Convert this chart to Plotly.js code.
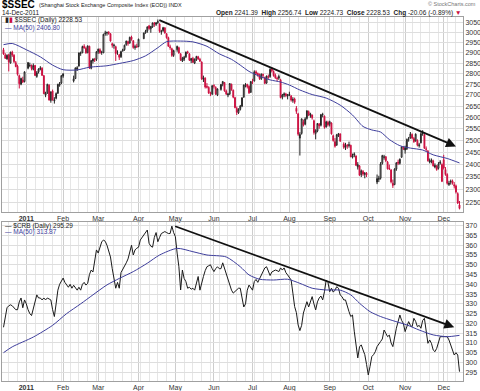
<!DOCTYPE html>
<html><head><meta charset="utf-8">
<script src="https://cdn.plot.ly/plotly-3.0.1.min.js"></script>
<style>html,body{margin:0;padding:0;background:#fff;}#chart{width:480px;height:391px;}</style>
</head><body><div id="chart"></div>
<script>
// ---------- calendar ----------
const firstDay = '2010-12-15';
const lastDay = '2011-12-14';
const sseHolidays = ['2011-01-03','2011-02-02','2011-02-03','2011-02-04','2011-02-07','2011-02-08',
  '2011-04-04','2011-04-05','2011-05-02','2011-06-06','2011-09-12',
  '2011-10-03','2011-10-04','2011-10-05','2011-10-06','2011-10-07'];

// ---------- $SSEC daily OHLC (one row per month) ----------
const ssecOpen = [
 2915,2890,2870,2890,2850,2903,2888,2852,2835,2790,2750,2770,2762,
 2825,2838,2840,2820,2838,2786,2808,2820,2825,2790,2700,2710,2745,2675,2718,2673,2685,2708,2745,2755,
 2788,2765,2776,2820,2835,2897,2900,2932,2922,2900,2932,2825,2860,2868,2868,
 2905,2915,2902,2900,2995,2998,3002,2995,2945,2935,2930,2898,2890,2880,2910,2915,2940,2955,2948,2978,2960,2926,2932,
 2930,2970,3000,3008,3035,3020,3030,3050,3043,3052,3045,3005,3010,3025,2995,2975,2930,2920,2887,
 2915,2925,2895,2860,2868,2880,2905,2895,2862,2872,2850,2868,2880,2868,2855,2772,2778,2740,2735,2708,2705,
 2743,2735,2700,2725,2750,2758,2718,2700,2705,2750,2722,2688,2640,2620,2635,2650,2690,2745,2748,2740,2712,
 2760,2765,2808,2800,2790,2775,2795,2780,2755,2785,2785,2822,2810,2792,2778,2778,2770,2690,2700,2705,2695,
 2700,2695,2675,2682,2640,2615,2510,2530,2580,2570,2595,2625,2608,2610,2585,2530,2540,2570,2565,2612,2605,2558,2578,
 2570,2575,2520,2495,2480,2522,2528,2485,2470,2480,2478,2480,2430,2438,2435,2390,2395,2360,2372,2360,2365,
 2330,2340,2345,2405,2430,2432,2410,2385,2378,2325,2320,2382,2410,2405,2430,2470,
 2460,2465,2505,2510,2525,2508,2498,2500,2478,2490,2528,2525,2465,2455,2410,2412,2415,2390,2395,2385,2405,2400,
 2420,2380,2360,2320,2330,2335,2320,2315,2285,2241.39];
const ssecHigh = [
 2924,2898,2892,2895,2905,2910,2893,2860,2842,2795,2780,2785,2810,
 2853,2852,2842,2848,2840,2812,2825,2835,2830,2792,2715,2752,2750,2715,2725,2690,2712,2752,2760,2792,
 2800,2790,2828,2835,2900,2906,2935,2942,2930,2936,2935,2865,2872,2875,2908,
 2920,2922,2910,2995,3010,3005,3008,2998,2950,2945,2935,2912,2895,2910,2920,2940,2960,2960,2980,2985,2962,2940,2945,
 2970,3000,3015,3032,3040,3035,3052,3055,3055,3068,3048,3015,3030,3028,2998,2980,2940,2925,2915,
 2935,2930,2898,2880,2885,2905,2910,2898,2875,2880,2872,2885,2885,2875,2858,2790,2782,2755,2740,2715,2745,
 2750,2740,2730,2750,2765,2760,2725,2710,2755,2752,2725,2692,2648,2640,2655,2690,2748,2755,2752,2745,2765,
 2775,2815,2815,2805,2800,2800,2800,2785,2790,2795,2825,2830,2815,2800,2785,2795,2775,2705,2712,2710,2705,
 2715,2700,2690,2688,2650,2620,2535,2595,2590,2600,2632,2630,2620,2612,2590,2548,2575,2575,2615,2620,2608,2585,2585,
 2585,2578,2525,2510,2528,2532,2530,2492,2490,2485,2495,2482,2445,2450,2438,2410,2398,2380,2378,2370,2370,
 2360,2355,2410,2440,2440,2435,2415,2400,2382,2340,2385,2410,2420,2425,2475,2475,
 2478,2508,2515,2536,2530,2515,2530,2505,2490,2535,2544,2528,2475,2460,2425,2425,2420,2405,2398,2410,2418,2405,
 2440,2390,2365,2335,2340,2340,2330,2320,2290,2256.74];
const ssecLow = [
 2890,2870,2866,2810,2848,2880,2850,2830,2790,2730,2745,2755,2758,
 2820,2830,2815,2815,2788,2780,2800,2815,2790,2705,2690,2705,2675,2665,2675,2661,2680,2705,2738,2750,
 2780,2758,2774,2812,2834,2885,2898,2920,2895,2898,2822,2820,2848,2855,2860,
 2895,2895,2890,2898,2985,2985,2990,2955,2925,2920,2860,2890,2865,2875,2905,2910,2935,2935,2945,2960,2920,2915,2925,
 2928,2968,2995,3000,3015,3000,3025,3030,3035,3045,3000,2990,3005,2995,2970,2930,2915,2880,2880,
 2905,2895,2860,2855,2860,2875,2895,2860,2850,2850,2845,2860,2865,2855,2770,2760,2730,2730,2705,2695,2700,
 2730,2700,2695,2720,2740,2715,2700,2690,2700,2720,2685,2640,2610,2615,2630,2645,2688,2735,2730,2705,2710,
 2750,2762,2795,2785,2770,2770,2780,2750,2752,2775,2780,2805,2785,2775,2765,2770,2685,2680,2690,2690,2680,
 2695,2670,2665,2660,2615,2520,2437,2525,2560,2565,2590,2605,2598,2590,2525,2505,2535,2550,2560,2600,2550,2555,2560,
 2560,2525,2495,2470,2478,2515,2495,2465,2460,2465,2470,2430,2425,2430,2395,2380,2355,2350,2355,2345,2350,
 2322,2330,2340,2400,2420,2410,2380,2378,2325,2307,2318,2375,2398,2400,2428,2460,
 2445,2460,2495,2508,2505,2490,2495,2475,2470,2488,2520,2465,2455,2412,2405,2405,2392,2385,2375,2380,2400,2330,
 2380,2355,2320,2315,2320,2320,2305,2285,2245,2224.73];
const ssecClose = [
 2894,2873,2888,2856,2903,2889,2857,2833,2796,2752,2777,2760,2808,
 2853,2839,2824,2838,2791,2804,2821,2827,2791,2706,2709,2749,2677,2715,2677,2677,2707,2749,2752,2790,
 2799,2775,2827,2828,2900,2899,2931,2924,2900,2934,2826,2862,2870,2865,2905,
 2918,2900,2902,2992,2998,3002,2997,2958,2937,2937,2896,2898,2878,2906,2914,2937,2958,2946,2977,2966,2926,2930,2928,
 2967,2999,3007,3030,3022,3032,3050,3043,3050,3057,3007,3007,3026,2999,2975,2932,2926,2887,2911,
 2932,2899,2866,2872,2878,2904,2900,2864,2872,2854,2869,2882,2870,2859,2775,2780,2737,2736,2709,2706,2743,
 2741,2705,2728,2749,2762,2719,2705,2704,2753,2724,2690,2643,2622,2635,2650,2687,2746,2748,2738,2710,2762,
 2759,2808,2801,2793,2776,2797,2792,2754,2788,2783,2820,2813,2790,2780,2776,2786,2688,2700,2705,2698,2701,
 2703,2677,2680,2667,2626,2527,2526,2593,2567,2593,2628,2611,2615,2598,2534,2542,2573,2563,2612,2612,2556,2580,2567,
 2581,2528,2500,2476,2524,2529,2497,2472,2479,2477,2482,2432,2436,2444,2397,2400,2357,2375,2362,2365,2359,
 2344,2345,2403,2437,2431,2416,2383,2383,2331,2317,2382,2407,2406,2422,2473,2468,
 2470,2505,2507,2528,2510,2495,2527,2480,2481,2529,2530,2467,2463,2416,2415,2419,2395,2397,2380,2402,2410,2333,
 2386,2360,2325,2326,2333,2325,2315,2291,2249,2228.53];

// $SSEC MA(50): weekday index from firstDay, value
const ssecMaDay = [0,5,13,21,28,34,42,49,59,66,74,81,88,93,101,108,116,123,130,135,140,146,152,158,163,169,176,184,192,199,205,210,215,220,226,232,239,245,253,260];
const ssecMaVal = [2940,2946,2915,2880,2840,2818,2817,2830,2837,2848,2862,2885,2925,2955,2958,2954,2932,2895,2868,2840,2810,2787,2770,2760,2746,2723,2702,2686,2654,2610,2560,2545,2536,2504,2478,2468,2460,2440,2425,2406.8];

// ---------- $CRB daily close, one value per weekday ----------
const crbClose = [
 318,324,328,329,329.5,329,328,327,327,331,
 333,328,332,330,327,325,324,328,331,334.6,
 333,333,332,333,332,333,332.5,332,327,323.5,
 330,337,340,342,343.2,341,339.6,338.5,340,338,
 339.5,338,337,338.5,337,340,341,339.6,340.5,345,
 347.3,346.3,352,357.6,356,359,361.7,362.7,362,360,
 357,354,348,342,338,341,338,346,347.5,349,
 351,353,356,360,355,357.6,358.5,359,362.7,364,
 365,366.3,367.8,361,359.5,359,364,366.5,361.8,364,
 366,366.5,367,366.5,366,366,369.8,366.5,364.4,356,
 349,337.1,347.3,343,341.4,338,338.5,337.5,338,337,
 340,344,337,341,344,347,349,349.5,350,348,
 346.5,348,349,348,348,351,348,346,342,338.8,
 337,335.5,336.5,337,338,338,332,328.4,330,337,
 339.6,338,337,341.4,342.5,341,343,344.5,346.5,348.4,
 349,347,344.5,346.3,347,347.3,347,346.5,348.4,347.3,
 348.4,346,344.8,343.5,342.2,335.5,328.6,325.5,319.2,316.3,
 319,325.3,328.4,331.1,328.4,331.5,333.7,330,326.9,331,
 333,334,332,336.2,342.2,341,336.2,338,336,337,
 338.8,338,334.5,333.7,332,332,328.4,326,323.5,324.3,
 316,309,302.3,308,309,306.4,304,299,293.6,298,
 303,304,305.5,308.1,309.8,310.7,312,316.6,314.9,313.2,
 314,310,308.1,314,317.5,320.9,324.3,321.5,320,315.8,
 319,320.9,319,318.3,322.6,321,318.3,319,317.5,321.5,
 322.6,315.8,309.8,311.5,309.8,306.4,305.5,307.2,309.8,313.2,
 313.2,313.2,313.2,313.2,311.5,308.9,305.5,303.8,305,303.8,
 295.29];
const crbMaDay = [0,5,17,28,36,44,51,59,66,74,82,89,99,108,116,127,135,140,146,154,162,169,176,184,192,198,203,209,215,222,230,237,245,253,260];
const crbMaVal = [305,308,313,319,325,330,334.6,339.7,343,346.5,350.8,355,358.4,356.7,355,354,349,344.8,342.6,342.2,342.6,340.5,338,337.1,337,334.6,330.3,326,323.5,321.4,319.2,316.6,314.1,313.2,313.87];

// ---------- trend lines ----------
const ssecTrendDates = ['2011-04-18','2011-12-12'];
const ssecTrendVals = [3068, 2475];
const crbTrendDates = ['2011-04-29','2011-12-09'];
const crbTrendVals = [370, 318];

// ---------- axis labels ----------
const monthTickDates = ['2011-01-03','2011-02-01','2011-03-01','2011-04-01','2011-05-02','2011-06-01','2011-07-01','2011-08-01','2011-09-01','2011-10-03','2011-11-01','2011-12-01'];
const monthTickText = ['<b>2011</b>','Feb','Mar','Apr','May','Jun','Jul','Aug','Sep','Oct','Nov','Dec'];
const ssecTicks = [2250,2300,2350,2400,2450,2500,2550,2600,2650,2700,2750,2800,2850,2900,2950,3000,3050];

// ---------- build ----------
function weekdayList(a, b) {
  const out = [];
  const d = new Date(a + 'T00:00:00Z');
  const e = new Date(b + 'T00:00:00Z');
  while (d <= e) {
    const w = d.getUTCDay();
    if (w !== 0 && w !== 6) out.push(d.toISOString().slice(0, 10));
    d.setUTCDate(d.getUTCDate() + 1);
  }
  return out;
}
const allDays = weekdayList(firstDay, lastDay);
const sseDays = allDays.filter(d => sseHolidays.indexOf(d) < 0);

const RED = '#cc1040';
const MABLUE = '#3e3e9c';
const FONT = 'Liberation Sans, Arial, sans-serif';

const data = [
  {type:'candlestick', x:sseDays, open:ssecOpen, high:ssecHigh, low:ssecLow, close:ssecClose,
   xaxis:'x', yaxis:'y', whiskerwidth:0, hoverinfo:'skip',
   increasing:{line:{color:'#222222', width:1}, fillcolor:'#ffffff'},
   decreasing:{line:{color:RED, width:1}, fillcolor:RED}},
  {type:'scatter', mode:'lines', x:ssecMaDay.map(i => allDays[i]), y:ssecMaVal, xaxis:'x', yaxis:'y',
   line:{color:MABLUE, width:1, shape:'spline', smoothing:0.7}, hoverinfo:'skip'},
  {type:'scatter', mode:'lines', x:allDays, y:crbClose, xaxis:'x2', yaxis:'y2',
   line:{color:'#1a1a1a', width:1}, hoverinfo:'skip'},
  {type:'scatter', mode:'lines', x:crbMaDay.map(i => allDays[i]), y:crbMaVal, xaxis:'x2', yaxis:'y2',
   line:{color:MABLUE, width:1, shape:'spline', smoothing:0.7}, hoverinfo:'skip'}
];

const W = 480, H = 391, ML = 2, MR = 17, MT = 17, MB = 10;
const PW = W - ML - MR, PH = H - MT - MB;
const px = x => (x - ML) / PW;
const py = y => (H - MB - y) / PH;

const xCommon = {
  type:'date', range:['2010-12-14 03:30', '2011-12-16 00:00'],
  rangebreaks:[{bounds:['sat','mon']}],
  rangeslider:{visible:false},
  tickmode:'array', tickvals:monthTickDates, ticktext:monthTickText,
  ticks:'', showgrid:true, gridcolor:'#cdcdcd', gridwidth:1,
  minor:{dtick:7*86400000, tick0:'2010-12-13', showgrid:true, gridcolor:'#e6e6e6', gridwidth:1},
  showline:true, mirror:true, linecolor:'#a0a0a0', linewidth:1,
  zeroline:false, fixedrange:true,
  tickfont:{family:FONT, size:7, color:'#333'}
};

const layout = {
  width:W, height:H,
  margin:{l:ML, r:MR, t:MT, b:MB, pad:0},
  paper_bgcolor:'#ffffff', plot_bgcolor:'#ffffff',
  showlegend:false,
  font:{family:FONT, size:7, color:'#222'},
  xaxis:Object.assign({}, xCommon, {anchor:'y', domain:[0,1]}),
  xaxis2:Object.assign({}, xCommon, {anchor:'y2', domain:[0,1], matches:'x'}),
  yaxis:{domain:[1 - 195/PH, 1], type:'log', range:[Math.log10(2215), Math.log10(3081)],
    side:'right', tickmode:'array', tickvals:ssecTicks, ticktext:ssecTicks.map(String),
    ticks:'', showgrid:true, gridcolor:'#dedede', showline:true, mirror:true, linecolor:'#a0a0a0',
    zeroline:false, fixedrange:true, tickfont:{family:FONT, size:7, color:'#333'}},
  yaxis2:{domain:[0, 159/PH], range:[290.5, 371.9], side:'right', tick0:295, dtick:5,
    ticks:'', showgrid:true, gridcolor:'#dedede', showline:true, mirror:true, linecolor:'#a0a0a0',
    zeroline:false, fixedrange:true, tickfont:{family:FONT, size:7, color:'#333'}},
  annotations:[
    {xref:'paper', yref:'paper', x:px(0), y:py(5), xanchor:'left', yanchor:'middle', showarrow:false,
     text:'<b>$SSEC</b>', font:{family:FONT, size:10, color:'#000'}},
    {xref:'paper', yref:'paper', x:px(37), y:py(5.5), xanchor:'left', yanchor:'middle', showarrow:false,
     text:'(Shanghai Stock Exchange Composite Index (EOD)) INDX', font:{family:FONT, size:5.5, color:'#222'}},
    {xref:'paper', yref:'paper', x:px(478), y:py(4), xanchor:'right', yanchor:'middle', showarrow:false,
     text:'© StockCharts.com', font:{family:FONT, size:5.5, color:'#777'}},
    {xref:'paper', yref:'paper', x:px(0), y:py(12.8), xanchor:'left', yanchor:'middle', showarrow:false,
     text:'14-Dec-2011', font:{family:FONT, size:6.5, color:'#222'}},
    {xref:'paper', yref:'paper', x:px(463), y:py(12.8), xanchor:'right', yanchor:'middle', showarrow:false,
     text:'<b>Open</b> 2241.39  <b>High</b> 2256.74  <b>Low</b> 2224.73  <b>Close</b> 2228.53  <b>Chg</b> -20.06 (-0.89%) <span style="color:' + RED + '">▼</span>',
     font:{family:FONT, size:6.5, color:'#222'}},
    {xref:'paper', yref:'paper', x:px(3), y:py(20.5), xanchor:'left', yanchor:'middle', showarrow:false,
     text:'<span style="color:#222">▮</span><span style="color:' + RED + '">▮</span> $SSEC (Daily) 2228.53', font:{family:FONT, size:6.5, color:'#222'}},
    {xref:'paper', yref:'paper', x:px(3), y:py(27.5), xanchor:'left', yanchor:'middle', showarrow:false,
     text:'— MA(50) 2406.80', font:{family:FONT, size:6.5, color:MABLUE}},
    {xref:'paper', yref:'paper', x:px(3), y:py(225.5), xanchor:'left', yanchor:'middle', showarrow:false,
     text:'— $CRB (Daily) 295.29', font:{family:FONT, size:6.5, color:'#222'}},
    {xref:'paper', yref:'paper', x:px(3), y:py(232), xanchor:'left', yanchor:'middle', showarrow:false,
     text:'— MA(50) 313.87', font:{family:FONT, size:6.5, color:MABLUE}},
    {xref:'x', yref:'y', axref:'x', ayref:'y',
     x:ssecTrendDates[1], y:Math.log10(ssecTrendVals[1]), ax:ssecTrendDates[0], ay:Math.log10(ssecTrendVals[0]),
     text:'', showarrow:true, arrowhead:2, arrowsize:1.1, arrowwidth:1.8, arrowcolor:'#111'},
    {xref:'x2', yref:'y2', axref:'x2', ayref:'y2',
     x:crbTrendDates[1], y:crbTrendVals[1], ax:crbTrendDates[0], ay:crbTrendVals[0],
     text:'', showarrow:true, arrowhead:2, arrowsize:1.1, arrowwidth:1.8, arrowcolor:'#111'}
  ]
};

Plotly.newPlot('chart', data, layout, {staticPlot:true, displayModeBar:false});
</script>
</body></html>
